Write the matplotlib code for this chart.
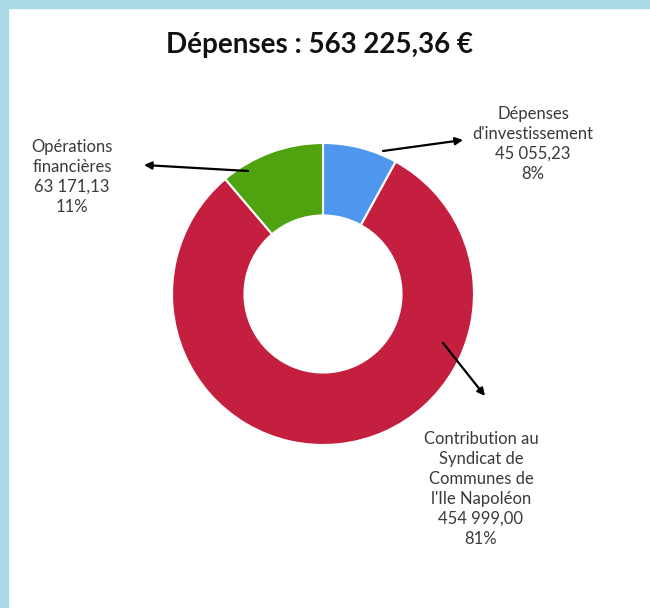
import matplotlib.pyplot as plt
from matplotlib.patches import Rectangle

# chart data
categories = ["Dépenses\nd'investissement", "Contribution au\nSyndicat de\nCommunes de\nl'Ile Napoléon",
              "Opérations\nfinancières"]
values = [45055.23, 454999.00, 63171.13]
value_labels = ["45 055,23", "454 999,00", "63 171,13"]
pct_labels = ["8%", "81%", "11%"]
colors = ["#4f96ee", "#c41f3e", "#4ea30e"]
title = "Dépenses : 563 225,36 €"

W, H = 650, 608
fig = plt.figure(figsize=(W / 100, H / 100), dpi=100)
fig.patch.set_facecolor("white")

# overlay in pixel coords (for frame, title, labels, arrows)
ov = fig.add_axes([0, 0, 1, 1])
ov.set_xlim(0, W)
ov.set_ylim(H, 0)
ov.axis("off")
ov.add_patch(Rectangle((0, 0), W, 8, color="#abd9e6", zorder=0))
ov.add_patch(Rectangle((0, 0), 8, H, color="#abd9e6", zorder=0))

ov.text(319, 45, title, ha="center", va="center", fontsize=20,
        fontweight="bold", family="Lato", color="#111111")

# donut
cx, cy, r = 323, 294, 151
pax = fig.add_axes([(cx - r) / W, (H - cy - r) / H, 2 * r / W, 2 * r / H])
pax.pie(values, colors=colors, startangle=90, counterclock=False, radius=1,
        wedgeprops=dict(width=0.48, edgecolor="white", linewidth=1.5))
pax.set_xlim(-1, 1)
pax.set_ylim(-1, 1)
pax.set_aspect("equal")
pax.axis("off")
ov.set_zorder(pax.get_zorder() + 1)
ov.patch.set_alpha(0)

# labels and arrows: (arrow start, arrow end, text block centre)
ann = [((383, 151), (463, 140), (533, 144)),
       ((443, 343), (485, 396), (481, 489)),
       ((248, 171), (144, 165), (72, 177))]
for i, (start, end, tpos) in enumerate(ann):
    txt = f"{categories[i]}\n{value_labels[i]}\n{pct_labels[i]}"
    ov.text(tpos[0], tpos[1], txt, ha="center", va="center", fontsize=12,
            family="Lato", color="#3a3a3a", linespacing=1.3)
    ov.annotate("", xy=end, xytext=start,
                arrowprops=dict(arrowstyle="-|>", color="black", lw=1.6,
                                mutation_scale=11, shrinkA=0, shrinkB=0))

fig.savefig("out.png", dpi=100)
